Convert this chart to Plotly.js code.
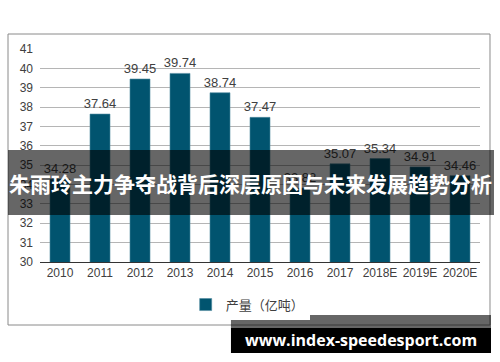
<!DOCTYPE html>
<html>
<head>
<meta charset="utf-8">
<script src="https://cdn.plot.ly/plotly-3.0.1.min.js"></script>
<style>html,body{margin:0;padding:0;background:#fff;}#chart{width:500px;height:362px;}</style>
</head>
<body>
<div id="chart"></div>
<script>
const years = ["2010","2011","2012","2013","2014","2015","2016","2017","2018E","2019E","2020E"];
const output = [34.28, 37.64, 39.45, 39.74, 38.74, 37.47, 33.82, 35.07, 35.34, 34.91, 34.46];
const seriesName = "产量（亿吨）";
const bannerText = "朱雨玲主力争夺战背后深层原因与未来发展趋势分析";
const watermarkText = "www.index-speedesport.com";

const trace = {
  type: "bar",
  x: years,
  y: output,
  name: seriesName,
  width: 0.5,
  marker: {color: "#01546f", line: {color: "#4f8aa0", width: 0.6}},
  text: output.map(v => v.toFixed(2)),
  textposition: "outside",
  constraintext: "none",
  textfont: {family: "Liberation Sans, Arial, sans-serif", size: 13, color: "#404040"},
  cliponaxis: false,
  hoverinfo: "x+y"
};

const layout = {
  width: 500, height: 362,
  margin: {l: 40, r: 20, t: 49, b: 100},
  paper_bgcolor: "#fff", plot_bgcolor: "#fff",
  font: {family: "Liberation Sans, Arial, sans-serif", size: 12, color: "#404040"},
  bargap: 0.5,
  xaxis: {
    type: "category",
    showline: true, linecolor: "#333", linewidth: 1,
    ticks: "", showgrid: false,
    tickfont: {size: 12, color: "#404040"}
  },
  yaxis: {
    range: [30, 41], dtick: 1, tick0: 30,
    showgrid: true, gridcolor: "#b5b5b5", gridwidth: 1,
    zeroline: false, showline: false, ticks: "",
    ticklabelstandoff: 6,
    tickfont: {size: 12, color: "#404040"}
  },
  showlegend: true,
  legend: {
    orientation: "h", x: 0.472, xanchor: "center", y: -0.2, yanchor: "middle",
    itemwidth: 30,
    font: {family: "Noto Sans CJK SC, sans-serif", size: 13, color: "#404040"}
  },
  shapes: [
    {type: "rect", xref: "paper", yref: "paper", x0: -0.0727, x1: 1.0227, y0: -0.2958, y1: 1.0704,
     line: {color: "#8a8a8a", width: 1}, fillcolor: "rgba(0,0,0,0)", layer: "below"},
    {type: "rect", xref: "paper", yref: "paper", x0: -0.0727, x1: 1.0318, y0: 0.2207, y1: 0.5258,
     line: {width: 0}, fillcolor: "rgba(0,0,0,0.6)", layer: "above"},
    {type: "rect", xref: "paper", yref: "paper", x0: 0.434, x1: 1.025, y0: -0.3099, y1: -0.2488,
     line: {width: 0}, fillcolor: "rgba(0,0,0,0.6)", layer: "above"},
    {type: "rect", xref: "paper", yref: "paper", x0: 0.434, x1: 1.025, y0: -0.4272, y1: -0.3099,
     line: {width: 0}, fillcolor: "#000", layer: "above"}
  ],
  annotations: [
    {xref: "paper", yref: "paper", x: 0.4795, y: 0.37, xanchor: "center", yanchor: "middle",
     text: "<b>" + bannerText + "</b>", showarrow: false,
     font: {family: "Noto Sans CJK SC, sans-serif", size: 21, color: "#fff"}},
    {xref: "paper", yref: "paper", x: 0.729, y: -0.366, xanchor: "center", yanchor: "middle",
     text: "<b>" + watermarkText + "</b>", showarrow: false,
     font: {family: "Open Sans, sans-serif", size: 16, color: "#fff"}}
  ]
};

Plotly.newPlot("chart", [trace], layout, {displayModeBar: false, staticPlot: true});
</script>
</body>
</html>
